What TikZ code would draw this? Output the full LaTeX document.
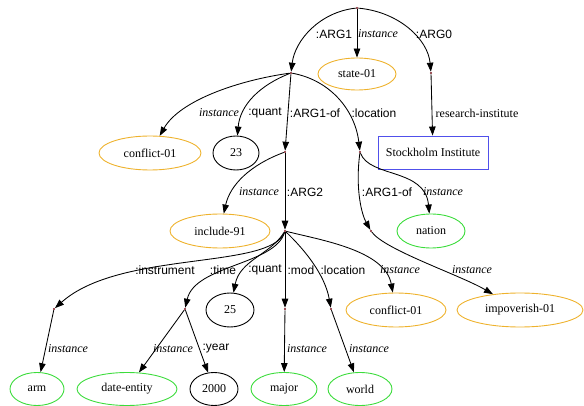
\documentclass[tikz,border=0pt]{standalone}
\usepackage{fontspec}
\setmainfont{Liberation Serif}
\setsansfont{Liberation Sans}
\usetikzlibrary{arrows.meta,shapes.geometric}

\definecolor{amrorange}{RGB}{238,178,45}
\definecolor{amrgreen}{RGB}{60,220,60}
\definecolor{amrblue}{RGB}{80,80,235}
\definecolor{dotred}{RGB}{120,20,30}

\tikzset{
  every node/.style={font=\fontsize{12}{14}\selectfont},
  varpt/.style={circle, fill=dotred, inner sep=0pt, minimum size=2.2pt},
  concept/.style={ellipse, draw=amrorange, line width=0.9pt, inner sep=0pt, minimum height=34pt},
  leaf/.style={ellipse, draw=amrgreen, line width=0.9pt, inner sep=0pt, minimum height=34pt},
  num/.style={ellipse, draw=black, line width=0.9pt, inner sep=0pt, minimum height=34pt},
  named/.style={rectangle, draw=amrblue, line width=0.9pt, inner sep=0pt},
  edge/.style={-{Triangle[length=9pt,width=6.5pt]}, line width=0.85pt},
  role/.style={font=\sffamily\fontsize{12}{14}\selectfont, inner sep=0pt},
  inst/.style={font=\itshape\fontsize{12}{14}\selectfont, inner sep=0pt},
  plainlbl/.style={inner sep=0pt}
}

\begin{document}
\begin{tikzpicture}[x=1pt, y=-1pt]
  \useasboundingbox (0,0) rectangle (584,406);

  % Variables
  \node[varpt] (s)   at (357,8)   {};
  \node[varpt] (c)   at (291,73)  {};
  \node[varpt] (r)   at (431,73)  {};
  \node[varpt] (i)   at (285,152) {};
  \node[varpt] (l)   at (360,152) {};
  \node[varpt] (i2)  at (285,231) {};
  \node[varpt] (p)   at (371,231) {};
  \node[varpt] (a)   at (54,309)  {};
  \node[varpt] (d)   at (185,309) {};
  \node[varpt] (m)   at (285,309) {};
  \node[varpt] (w)   at (331,309) {};

  % Concepts
  \node[concept, minimum width=78pt, minimum height=32pt] (state) at (357,74) {state-01};
  \node[concept, minimum width=102pt] (conflictA) at (150,153) {conflict-01};
  \node[num, minimum width=46pt] (q23) at (236,153) {23};
  \node[named, minimum width=110pt, minimum height=33pt] (stock) at (433,152.5) {Stockholm Institute};
  \node[concept, minimum width=100pt] (include) at (220,231) {include-91};
  \node[leaf, minimum width=68pt] (nation) at (431,231) {nation};
  \node[num, minimum width=48pt] (q25) at (230,310) {25};
  \node[concept, minimum width=100pt] (conflictB) at (396,310) {conflict-01};
  \node[concept, minimum width=126pt] (impov) at (520,310) {impoverish-01};
  \node[leaf, minimum width=54pt, minimum height=33pt] (arm) at (37,389) {arm};
  \node[leaf, minimum width=100pt, minimum height=33pt] (dent) at (127,389) {date-entity};
  \node[num, minimum width=48pt, minimum height=33pt] (y2000) at (214,389) {2000};
  \node[leaf, minimum width=66pt, minimum height=33pt] (major) at (284,389) {major};
  \node[leaf, minimum width=64pt, minimum height=33pt] (world) at (360,389) {world};

  % Edges
  \draw[edge] (s) .. controls (320,12) and (295,40) .. (c);
  \draw[edge] (s) -- (state);
  \draw[edge] (s) .. controls (400,12) and (428,40) .. (r);
  \draw[edge] (r) -- (stock);
  \draw[edge] (c) .. controls (240,80) and (180,100) .. (conflictA);
  \draw[edge] (c) .. controls (260,85) and (240,105) .. (q23);
  \draw[edge] (c) -- (i);
  \draw[edge] (c) .. controls (330,80) and (355,110) .. (l);
  \draw[edge] (i) .. controls (250,165) and (230,185) .. (include);
  \draw[edge] (i) -- (i2);
  \draw[edge] (l) .. controls (370,178) and (425,168) .. (nation);
  \draw[edge] (l) .. controls (355,190) and (362,215) .. (p);
  \draw[edge] (p) .. controls (385,250) and (460,275) .. (impov);
  \draw[edge] (i2) .. controls (270,270) and (120,250) .. (a);
  \draw[edge] (i2) .. controls (275,265) and (195,265) .. (d);
  \draw[edge] (i2) .. controls (270,255) and (240,260) .. (q25);
  \draw[edge] (i2) -- (m);
  \draw[edge] (i2) .. controls (305,250) and (325,275) .. (w);
  \draw[edge] (i2) .. controls (320,240) and (385,250) .. (conflictB);
  \draw[edge] (a) -- (arm);
  \draw[edge] (d) -- (dent);
  \draw[edge] (d) -- (y2000);
  \draw[edge] (m) -- (major);
  \draw[edge] (w) -- (world);

  % Labels
  \node[role] (tARGa) at (334,34) {:ARG1};
  \node[inst] (tinsa) at (378,34) {instance};
  \node[role] (tARGb) at (434,34) {:ARG0};
  \node[plainlbl] (tri) at (477,113) {research-institute};
  \node[inst] (tinsb) at (219,113) {instance};
  \node[role] (tqa) at (265,113) {:quant};
  \node[role] (tofa) at (315,113) {:ARG1-of};
  \node[role] (tloca) at (374,113) {:location};
  \node[inst] (tinsc) at (259,192) {instance};
  \node[role] (tARGc) at (305,192) {:ARG2};
  \node[role] (tofb) at (387,192) {:ARG1-of};
  \node[inst] (tinsd) at (443,192) {instance};
  \node[role] (tinstr) at (165,270) {:instrument};
  \node[role] (ttime) at (223,270) {:time};
  \node[role] (tqb) at (265,270) {:quant};
  \node[role] (tmod) at (301,270) {:mod};
  \node[role] (tlocb) at (343,270) {:location};
  \node[inst] (tinse) at (400,270) {instance};
  \node[inst] (tinsf) at (472,270) {instance};
  \node[inst] (tinsg) at (68,349) {instance};
  \node[inst] (tinsh) at (173,349) {instance};
  \node[role] (tyear) at (216,349) {:year};
  \node[inst] (tinsi) at (307,349) {instance};
  \node[inst] (tinsj) at (369,349) {instance};
\end{tikzpicture}
\end{document}
